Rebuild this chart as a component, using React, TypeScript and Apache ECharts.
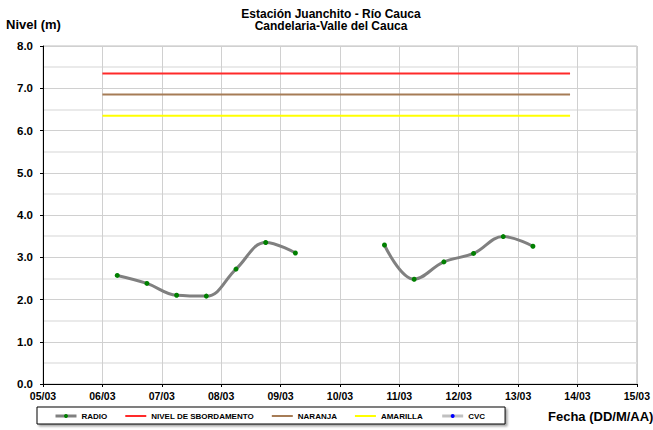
import React, { useEffect, useRef } from "react";
import * as echarts from "echarts";

const radioTimes = [
  "2024-03-06 06:00", "2024-03-06 18:00", "2024-03-07 06:00", "2024-03-07 18:00",
  "2024-03-08 06:00", "2024-03-08 18:00", "2024-03-09 06:00", "2024-03-09 18:00",
  "2024-03-10 06:00", "2024-03-10 18:00", "2024-03-11 06:00", "2024-03-11 18:00",
  "2024-03-12 06:00", "2024-03-12 18:00", "2024-03-13 06:00",
];
const radioValues: (number | null)[] = [
  2.57, 2.38, 2.1, 2.08, 2.72, 3.35, 3.1, null, null, 3.29, 2.48, 2.89, 3.09, 3.49, 3.26,
];
const thresholdTimes = ["2024-03-06 00:00", "2024-03-13 21:00"];
const desbordamento = [7.35, 7.35];
const naranja = [6.85, 6.85];
const amarilla = [6.35, 6.35];
const cvcValues: [string, number][] = [];

const xMin = "2024-03-05 00:00";
const xMax = "2024-03-15 00:00";
const yTicks = [0, 1, 2, 3, 4, 5, 6, 7, 8];

const seriesNames = ["RADIO", "NIVEL DE SBORDAMENTO", "NARANJA", "AMARILLA", "CVC"];
const titleLines = ["Estación Juanchito - Río Cauca", "Candelaria-Valle del Cauca"];
const yName = "Nivel (m)";
const xName = "Fecha (DD/M/AA)";

const FONT = "'Liberation Sans', Arial, sans-serif";
const BAR_ICON = "path://M0,0H42V4H0Z";

const pad = (n: number) => (n < 10 ? "0" + n : "" + n);
const toMs = (s: string) => {
  const [d, t] = s.split(" ");
  const [y, m, dd] = d.split("-").map(Number);
  const [hh, mm] = t.split(":").map(Number);
  return new Date(y, m - 1, dd, hh, mm).getTime();
};

export default function App() {
  const ref = useRef<HTMLDivElement>(null);
  useEffect(() => {
    if (!ref.current) return;
    const chart = echarts.init(ref.current, undefined, { renderer: "svg" });
    const thr = (vals: number[]) => thresholdTimes.map((t, i) => [toMs(t), vals[i]]);
    chart.setOption({
      animation: false,
      backgroundColor: "#ffffff",
      textStyle: { fontFamily: FONT },
      grid: {
        left: 43,
        right: 16,
        top: 46,
        bottom: 46,
        show: true,
        borderColor: "#bfbfbf",
        borderWidth: 1,
      },
      graphic: [
        {
          type: "text",
          x: 331,
          y: 13.5,
          style: {
            text: titleLines[0],
            font: `bold 12px ${FONT}`,
            fill: "#000",
            textAlign: "center",
            textVerticalAlign: "middle",
          },
        },
        {
          type: "text",
          x: 331,
          y: 26,
          style: {
            text: titleLines[1],
            font: `bold 12px ${FONT}`,
            fill: "#000",
            textAlign: "center",
            textVerticalAlign: "middle",
          },
        },
        {
          type: "text",
          x: 6,
          y: 24,
          style: {
            text: yName,
            font: `bold 13px ${FONT}`,
            fill: "#000",
            textAlign: "left",
            textVerticalAlign: "middle",
          },
        },
        {
          type: "text",
          x: 548,
          y: 416,
          style: {
            text: xName,
            font: `bold 13px ${FONT}`,
            fill: "#000",
            textAlign: "left",
            textVerticalAlign: "middle",
          },
        },
      ],
      legend: {
        data: [
          { name: seriesNames[0], lineStyle: { width: 3 } },
          { name: seriesNames[1], icon: BAR_ICON },
          { name: seriesNames[2], icon: BAR_ICON },
          { name: seriesNames[3], icon: BAR_ICON },
          { name: seriesNames[4], lineStyle: { width: 3 } },
        ],
        left: 37,
        top: 407,
        orient: "horizontal",
        itemWidth: 21,
        itemHeight: 5,
        itemGap: 18,
        symbolKeepAspect: true,
        padding: [5, 20, 4, 17],
        backgroundColor: "#ffffff",
        borderColor: "#000000",
        borderWidth: 1,
        shadowColor: "rgba(0,0,0,0.35)",
        shadowBlur: 2,
        shadowOffsetX: 2,
        shadowOffsetY: 2,
        textStyle: { fontFamily: FONT, fontSize: 8, fontWeight: "bold", color: "#000" },
      },
      xAxis: {
        type: "time",
        min: toMs(xMin),
        max: toMs(xMax),
        splitNumber: 10,
        minInterval: 86400000,
        maxInterval: 86400000,
        axisLine: { show: true, lineStyle: { color: "#000", width: 1 } },
        axisTick: { show: true, length: 3, lineStyle: { color: "#000" } },
        axisLabel: {
          showMinLabel: true,
          showMaxLabel: true,
          margin: 6,
          fontSize: 10.5,
          fontWeight: "bold",
          color: "#000",
          fontFamily: FONT,
          formatter: (v: number) => {
            const d = new Date(v);
            return pad(d.getDate()) + "/" + pad(d.getMonth() + 1);
          },
        },
        splitLine: { show: true, lineStyle: { color: "#d0d0d0", width: 1 } },
      },
      yAxis: {
        type: "value",
        min: yTicks[0],
        max: yTicks[yTicks.length - 1],
        interval: 1,
        axisLine: { show: true, lineStyle: { color: "#000", width: 1 } },
        axisTick: { show: true, length: 3, lineStyle: { color: "#000" } },
        axisLabel: {
          margin: 10,
          fontSize: 11.5,
          fontWeight: "bold",
          color: "#000",
          fontFamily: FONT,
          formatter: (v: number) => v.toFixed(1),
        },
        splitLine: { show: true, lineStyle: { color: "#d0d0d0", width: 1 } },
        minorTick: { show: false, splitNumber: 2 },
        minorSplitLine: { show: true, lineStyle: { color: "#e3e3e3", width: 1.5 } },
      },
      series: [
        {
          name: seriesNames[0],
          type: "line",
          data: radioTimes.map((t, i) => [toMs(t), radioValues[i]]),
          smooth: 0.4,
          connectNulls: false,
          symbol: "circle",
          symbolSize: 5,
          showSymbol: true,
          itemStyle: { color: "#008000" },
          lineStyle: { color: "#808080", width: 3 },
          z: 5,
        },
        {
          name: seriesNames[1],
          type: "line",
          data: thr(desbordamento),
          symbol: "none",
          itemStyle: { color: "#ff2a2a" },
          lineStyle: { color: "#ff2a2a", width: 2 },
        },
        {
          name: seriesNames[2],
          type: "line",
          data: thr(naranja),
          symbol: "none",
          itemStyle: { color: "#a67c56" },
          lineStyle: { color: "#a67c56", width: 2 },
        },
        {
          name: seriesNames[3],
          type: "line",
          data: thr(amarilla),
          symbol: "none",
          itemStyle: { color: "#ffff00" },
          lineStyle: { color: "#ffff00", width: 2 },
        },
        {
          name: seriesNames[4],
          type: "line",
          data: cvcValues,
          symbol: "circle",
          symbolSize: 4,
          itemStyle: { color: "#0000ff" },
          lineStyle: { color: "#c0c0c0", width: 3 },
        },
      ],
    });
    return () => chart.dispose();
  }, []);
  return <div ref={ref} style={{ width: 653, height: 430, position: "absolute", left: 0, top: 0 }} />;
}
